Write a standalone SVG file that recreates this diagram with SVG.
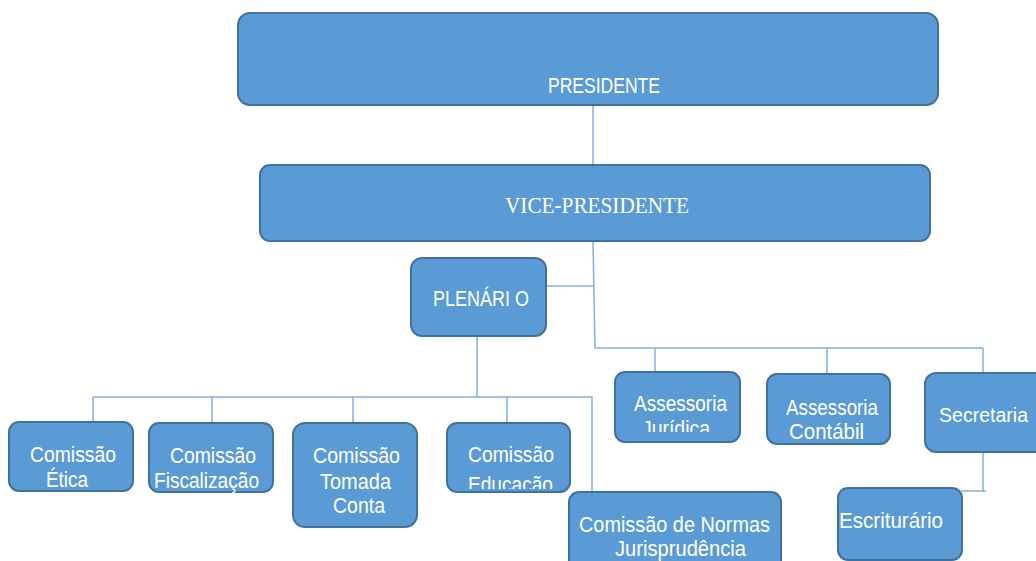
<svg xmlns="http://www.w3.org/2000/svg" width="1036" height="561" viewBox="0 0 1036 561">
<style>
.box{fill:#5B9BD5;stroke:#41719C;stroke-width:2}
.t{fill:#FFFFFF;font-family:"Liberation Sans",Arial,sans-serif;font-size:22.5px}
.ts{fill:#FFFFFF;font-family:"Liberation Serif","Times New Roman",serif;font-size:24px}
.ln{fill:none;stroke:#7FB0DF;stroke-width:1.5}
</style>
<defs>
<clipPath id="cjur"><rect x="615" y="372" width="125" height="60"/></clipPath>
<clipPath id="cedu"><rect x="447" y="423" width="123" height="66"/></clipPath>
</defs>
<rect width="1036" height="561" fill="#FFFFFF"/>
<g id="connectors">
<path class="ln" d="M593 105 V165"/>
<path class="ln" d="M593 241 L595 348 H983"/>
<path class="ln" d="M546 286 H594"/>
<path class="ln" d="M655 348 V372 M827 348 V374 M983 348 V373"/>
<path class="ln" d="M477 336 V397"/>
<path class="ln" d="M93 397 H592 V492"/>
<path class="ln" d="M93 397 V422 M212 397 V423 M353 397 V423 M507 397 V423"/>
<path class="ln" d="M983 452 V491 M961 491 H986"/>
</g>
<g id="presidente">
<rect class="box" x="238" y="13" width="700" height="92" rx="12"/>
<text class="t" x="548" y="93" textLength="112" lengthAdjust="spacingAndGlyphs">PRESIDENTE</text>
</g>
<g id="vice-presidente">
<rect class="box" x="260" y="165" width="670" height="76" rx="10"/>
<text class="ts" x="505" y="213" textLength="184" lengthAdjust="spacingAndGlyphs">VICE-PRESIDENTE</text>
</g>
<g id="plenario">
<rect class="box" x="411" y="258" width="135" height="78" rx="11"/>
<text class="t" x="433" y="306" textLength="96" lengthAdjust="spacingAndGlyphs">PLENÁRI O</text>
</g>
<g id="comissao-etica">
<rect class="box" x="9" y="422" width="124" height="69" rx="10"/>
<text class="t" x="30" y="462" textLength="86" lengthAdjust="spacingAndGlyphs">Comissão</text>
<text class="t" x="46" y="487" textLength="42" lengthAdjust="spacingAndGlyphs">Ética</text>
</g>
<g id="comissao-fiscalizacao">
<rect class="box" x="149" y="423" width="124" height="69" rx="10"/>
<text class="t" x="170" y="463" textLength="86" lengthAdjust="spacingAndGlyphs">Comissão</text>
<text class="t" x="154" y="488" textLength="105" lengthAdjust="spacingAndGlyphs">Fiscalização</text>
</g>
<g id="comissao-tomada-conta">
<rect class="box" x="293" y="423" width="124" height="104" rx="12"/>
<text class="t" x="313" y="463" textLength="87" lengthAdjust="spacingAndGlyphs">Comissão</text>
<text class="t" x="320" y="489" textLength="71" lengthAdjust="spacingAndGlyphs">Tomada</text>
<text class="t" x="333" y="513" textLength="52" lengthAdjust="spacingAndGlyphs">Conta</text>
</g>
<g id="comissao-educacao">
<rect class="box" x="447" y="423" width="123" height="69" rx="10"/>
<g clip-path="url(#cedu)">
<text class="t" x="468" y="462" textLength="86" lengthAdjust="spacingAndGlyphs">Comissão</text>
<text class="t" x="468" y="492" textLength="85" lengthAdjust="spacingAndGlyphs">Educação</text>
</g>
</g>
<g id="comissao-normas">
<rect class="box" x="569" y="492" width="212" height="85" rx="10"/>
<text class="t" x="579" y="532" textLength="191" lengthAdjust="spacingAndGlyphs">Comissão de Normas</text>
<text class="t" x="615" y="556" textLength="131" lengthAdjust="spacingAndGlyphs">Jurisprudência</text>
</g>
<g id="assessoria-juridica">
<rect class="box" x="615" y="372" width="125" height="70" rx="10"/>
<g clip-path="url(#cjur)">
<text class="t" x="634" y="411" textLength="93" lengthAdjust="spacingAndGlyphs">Assessoria</text>
<text class="t" x="642" y="436" textLength="68" lengthAdjust="spacingAndGlyphs">Jurídica</text>
</g>
</g>
<g id="assessoria-contabil">
<rect class="box" x="767" y="374" width="123" height="70" rx="10"/>
<text class="t" x="786" y="415" textLength="92" lengthAdjust="spacingAndGlyphs">Assessoria</text>
<text class="t" x="789" y="439" textLength="75" lengthAdjust="spacingAndGlyphs">Contábil</text>
</g>
<g id="secretaria">
<rect class="box" x="925" y="373" width="125" height="79" rx="11"/>
<text class="t" x="939" y="422" style="font-size:20.5px" textLength="89" lengthAdjust="spacingAndGlyphs">Secretaria</text>
</g>
<g id="escriturario">
<rect class="box" x="838" y="488" width="124" height="72" rx="10"/>
<text class="t" x="839" y="528" textLength="104" lengthAdjust="spacingAndGlyphs">Escriturário</text>
</g>
</svg>
